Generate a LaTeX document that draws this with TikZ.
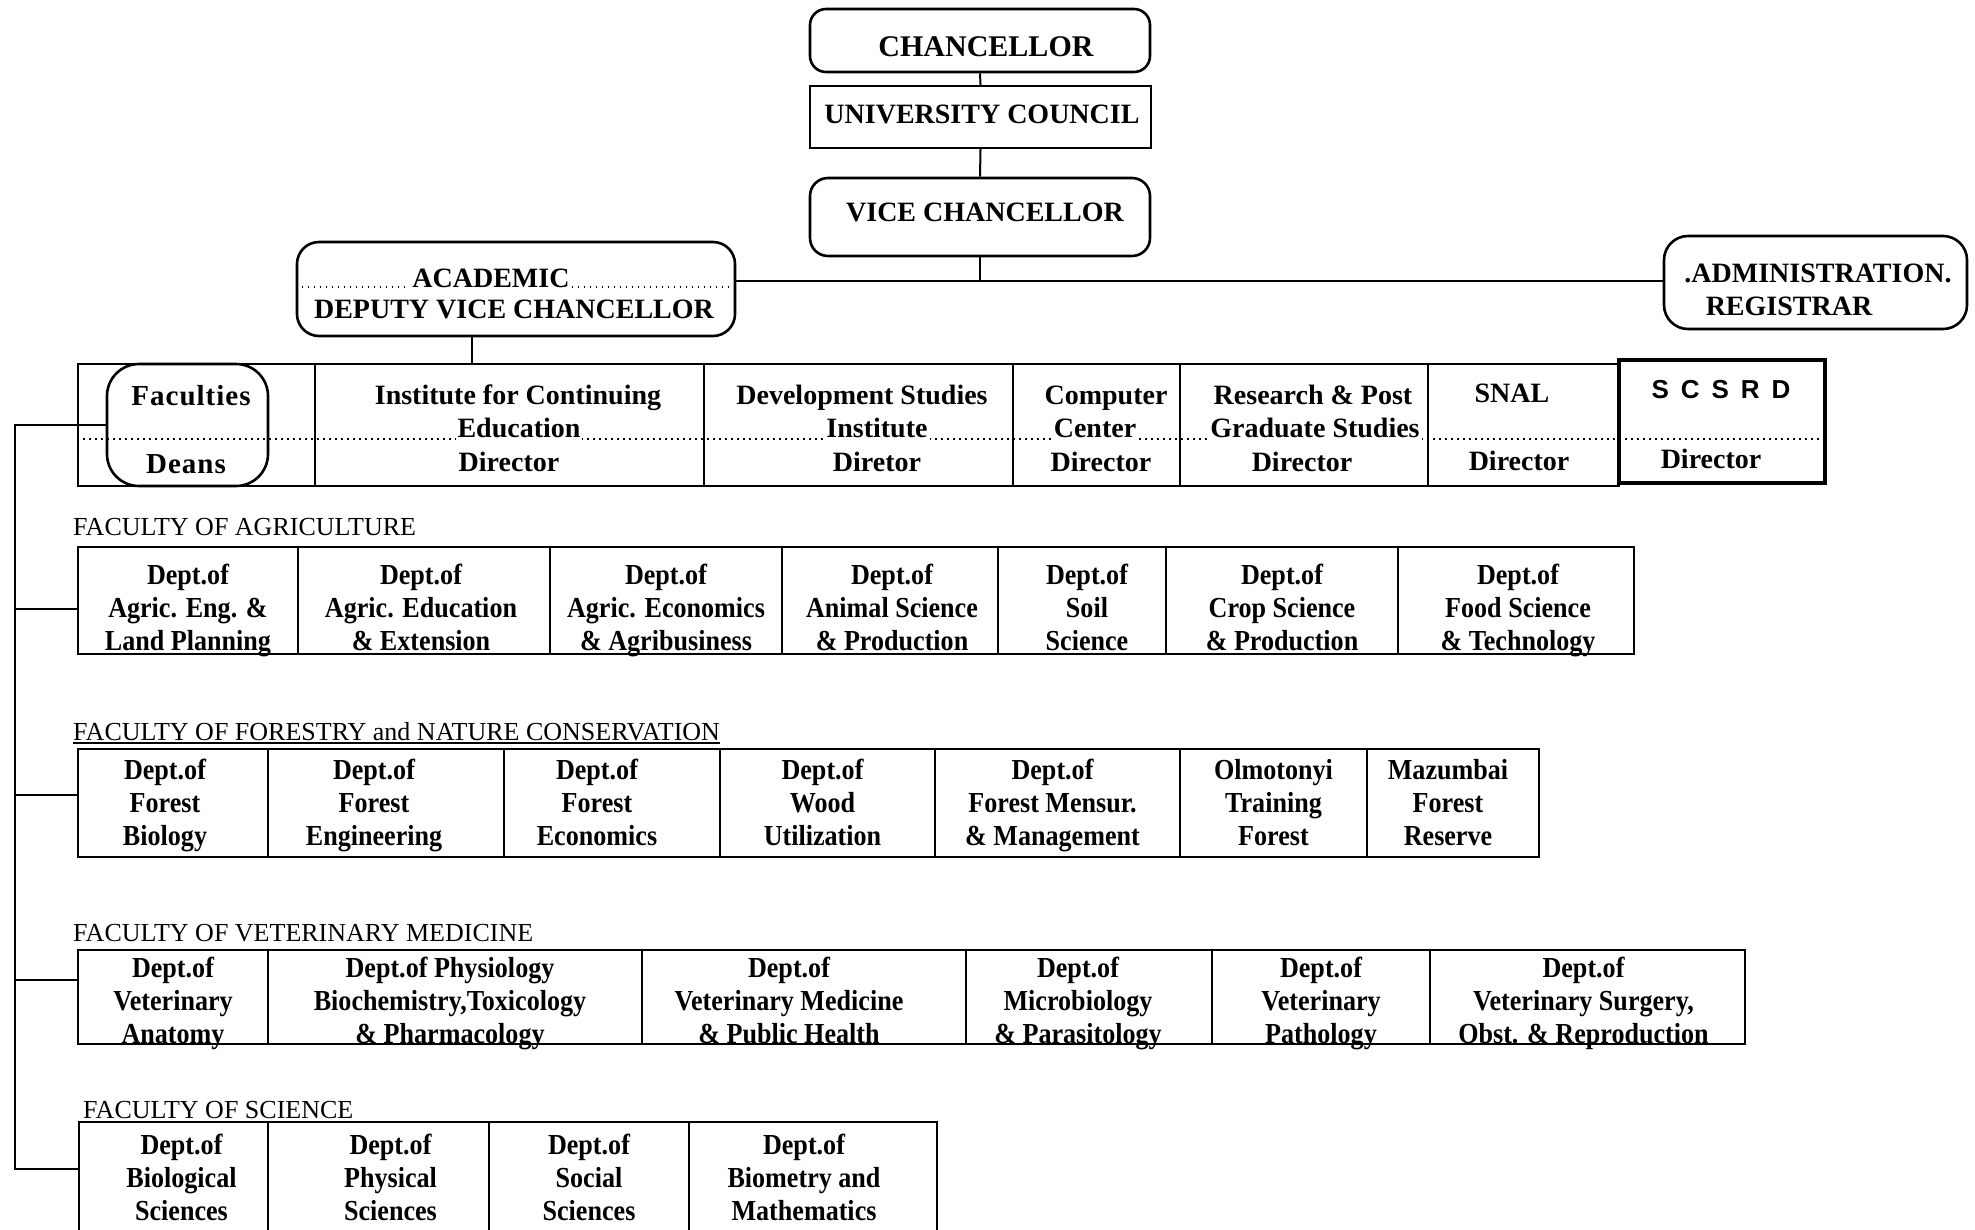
\documentclass[tikz,border=0pt]{standalone}
\usepackage{fontspec}
\setmainfont{Liberation Serif}
\newfontfamily\deptfont{Liberation Serif}[FakeStretch=0.9]
\newfontfamily\sansfont{Liberation Sans}

% a framed cell given by its left, right, top and bottom edges
\newcommand\framecell[5]{%
  \node[frame, minimum width={(#3-#2)*1pt}, minimum height={(#5-#4)*1pt}]
    (#1) at ({(#2+#3)/2},{(#4+#5)/2}) {};}
% a department cell: frame plus centred text, shifted by (dx, dy);
% struts keep every three-line block the same height
\newcommand\deptcell[8]{%
  \framecell{#1}{#2}{#3}{#4}{#5}%
  \node[celltext] (#1-t) at ([xshift={(#6)*1pt}, yshift={-(#7)*1pt}]#1.center) {\strut #8\strut};}

\begin{document}
\begin{tikzpicture}[x=1pt, y=-1pt,
  frame/.style={draw, line width=1.8pt, inner sep=0pt},
  roundbox/.style={draw, line width=2.6pt, inner sep=0pt},
  celltext/.style={align=center, inner sep=0pt, font=\deptfont\bfseries\fontsize{29}{33}\selectfont},
  toptext/.style={anchor=base, inner sep=0pt, font=\bfseries\fontsize{28}{32}\selectfont},
  unittext/.style={anchor=base, inner sep=0pt, font=\bfseries\fontsize{28}{32}\selectfont},
  ondots/.style={fill=white, inner xsep=2pt, inner ysep=3pt},
  conn/.style={line width=2pt},
  dots/.style={line width=1.5pt, dash pattern=on 1.5pt off 4.5pt},
  faclabel/.style={anchor=base west, inner sep=0pt, font=\fontsize{26}{30}\selectfont}]

\useasboundingbox (0,0) rectangle (1975,1229);
\fill[white] (0,0) rectangle (1975,1229);

% ---------------- top of the hierarchy ----------------
\node[roundbox, rounded corners=16pt, minimum width=340pt, minimum height=63pt] (chan) at (980,40.5) {};
\node[toptext, font=\bfseries\fontsize{30}{34}\selectfont] (chan-t) at (986,56) {CHANCELLOR};

\node[roundbox, line width=2.2pt, minimum width=341pt, minimum height=62pt] (uc) at (980.5,117) {};
\node[toptext] (uc-t) at (982,123) {UNIVERSITY COUNCIL};

\node[roundbox, rounded corners=18pt, minimum width=340pt, minimum height=78pt] (vc) at (980,217) {};
\node[toptext] (vc-t) at (985,221) {VICE CHANCELLOR};

\node[roundbox, rounded corners=22pt, minimum width=438pt, minimum height=94pt] (dvc) at (516,289) {};
\node[roundbox, rounded corners=24pt, minimum width=303pt, minimum height=93pt] (adm) at (1815.5,282.5) {};

\coordinate (hub) at (980,281);
\coordinate (drop) at (472,0);

\draw[conn] (chan.south) -- (uc.north);
\draw[conn] (uc.south) -- (vc.north);
\draw[conn] (vc.south) -- (hub);
\draw[conn] (dvc.east |- hub) -- (adm.west |- hub);

% dotted rule inside the deputy vice chancellor box
\draw[dots] (dvc.west |- 0,287) -- (dvc.east |- 0,287);
\node[toptext, ondots] (acad) at (491,287) {ACADEMIC};
\node[toptext] (dvc-t) at (514,318) {DEPUTY VICE CHANCELLOR};

\node[toptext] (adm-a) at (1818,282) {.ADMINISTRATION.};
\node[toptext] (adm-b) at (1789,315) {REGISTRAR};

% ---------------- units under the deputy vice chancellor ----------------
\framecell{u1}{78}{315}{364}{486}
\framecell{u2}{315}{704}{364}{486}
\framecell{u3}{704}{1013}{364}{486}
\framecell{u4}{1013}{1180}{364}{486}
\framecell{u5}{1180}{1428}{364}{486}
\framecell{u6}{1428}{1619}{364}{486}
\node[frame, line width=3.2pt, minimum width=206pt, minimum height=123pt] (u7) at (1722,421.5) {};

\draw[conn] (dvc.south -| drop) -- (u2.north -| drop);

\draw[dots] (u1.west |- 0,439) -- (u7.east |- 0,439);

\node[roundbox, rounded corners=32pt, minimum width=161pt, minimum height=122pt] (fac) at (187.5,425) {};
\node[unittext, font=\bfseries\fontsize{29}{33}\selectfont] (fac-a) at (191,405) {F\kern1pt a\kern1pt c\kern1pt u\kern1pt l\kern1pt t\kern1pt i\kern1pt e\kern1pt s};
\node[unittext, font=\bfseries\fontsize{29}{33}\selectfont] (fac-b) at (186,473) {D\kern1pt e\kern1pt a\kern1pt n\kern1pt s};

\node[unittext] (u2-a) at (518,404) {Institute for Continuing};
\node[unittext, ondots] (u2-b) at (519,437) {Education};
\node[unittext] (u2-c) at (509,471) {Director};

\node[unittext] (u3-a) at (862,404) {Development Studies};
\node[unittext, ondots] (u3-b) at (877,437) {Institute};
\node[unittext] (u3-c) at (877,471) {Diretor};

\node[unittext] (u4-a) at (1106,404) {Computer};
\node[unittext, ondots] (u4-b) at (1095,437) {Center};
\node[unittext] (u4-c) at (1101,471) {Director};

\node[unittext] (u5-a) at (1313,404) {Research \& Post};
\node[unittext, ondots] (u5-b) at (1315,437) {Graduate Studies};
\node[unittext] (u5-c) at (1302,471) {Director};

\node[unittext] (u6-a) at (1512,402) {SNAL};
\node[unittext] (u6-c) at (1519,470) {Director};

\node[unittext, font=\sansfont\bfseries\fontsize{26}{30}\selectfont] (u7-a) at (1721,398) {S\hspace{12pt}C\hspace{12pt}S\hspace{12pt}R\hspace{12pt}D};
\node[unittext] (u7-c) at (1711,468) {Director};

% ---------------- faculty of agriculture ----------------
\node[faclabel] (agr) at (73,535) {FACULTY OF AGRICULTURE};
\deptcell{a1}{78}{298}{547}{654}{0}{10}{Dept.of\\Agric. Eng. \&\\Land Planning}
\deptcell{a2}{298}{550}{547}{654}{-3}{10}{Dept.of\\Agric. Education\\\& Extension}
\deptcell{a3}{550}{782}{547}{654}{0}{10}{Dept.of\\Agric. Economics\\\& Agribusiness}
\deptcell{a4}{782}{998}{547}{654}{2}{10}{Dept.of\\Animal Science\\\& Production}
\deptcell{a5}{998}{1166}{547}{654}{5}{10}{Dept.of\\Soil\\Science}
\deptcell{a6}{1166}{1398}{547}{654}{0}{10}{Dept.of\\Crop Science\\\& Production}
\deptcell{a7}{1398}{1634}{547}{654}{2}{10}{Dept.of\\Food Science\\\& Technology}

% ---------------- faculty of forestry ----------------
\node[faclabel] (for) at (73,740) {FACULTY OF FORESTRY and NATURE CONSERVATION};
\draw[line width=1.4pt] ([yshift=-3pt]for.base west) -- ([yshift=-3pt]for.base east);
\deptcell{f1}{78}{268}{749}{857}{-8}{3}{Dept.of\\Forest\\Biology}
\deptcell{f2}{268}{504}{749}{857}{-12}{3}{Dept.of\\Forest\\Engineering}
\deptcell{f3}{504}{720}{749}{857}{-15}{3}{Dept.of\\Forest\\Economics}
\deptcell{f4}{720}{935}{749}{857}{-5}{3}{Dept.of\\Wood\\Utilization}
\deptcell{f5}{935}{1180}{749}{857}{-5}{3}{Dept.of\\Forest Mensur.\\\& Management}
\deptcell{f6}{1180}{1367}{749}{857}{0}{3}{Olmotonyi\\Training\\Forest}
\deptcell{f7}{1367}{1539}{749}{857}{-5}{3}{Mazumbai\\Forest\\Reserve}

% ---------------- faculty of veterinary medicine ----------------
\node[faclabel] (vet) at (73,941) {FACULTY OF VETERINARY MEDICINE};
\deptcell{v1}{78}{268}{950}{1044}{0}{7}{Dept.of\\Veterinary\\Anatomy}
\deptcell{v2}{268}{642}{950}{1044}{-5}{7}{Dept.of Physiology\\Biochemistry,Toxicology\\\& Pharmacology}
\deptcell{v3}{642}{966}{950}{1044}{-15}{7}{Dept.of\\Veterinary Medicine\\\& Public Health}
\deptcell{v4}{966}{1212}{950}{1044}{-11}{7}{Dept.of\\Microbiology\\\& Parasitology}
\deptcell{v5}{1212}{1430}{950}{1044}{0}{7}{Dept.of\\Veterinary\\Pathology}
\deptcell{v6}{1430}{1745}{950}{1044}{-4}{7}{Dept.of\\Veterinary Surgery,\\Obst. \& Reproduction}

% ---------------- faculty of science ----------------
\node[faclabel] (sci) at (83,1118) {FACULTY OF SCIENCE};
\deptcell{s1}{79}{268}{1122}{1231}{8}{4}{Dept.of\\Biological\\Sciences}
\deptcell{s2}{268}{489}{1122}{1231}{12}{4}{Dept.of\\Physical\\Sciences}
\deptcell{s3}{489}{689}{1122}{1231}{0}{4}{Dept.of\\Social\\Sciences}
\deptcell{s4}{689}{937}{1122}{1231}{-9}{4}{Dept.of\\Biometry and\\Mathematics}

% ---------------- trunk from the faculties to each faculty row ----------------
\coordinate (bA) at (15,609);
\coordinate (bF) at (15,795);
\coordinate (bV) at (15,980);
\coordinate (bS) at (15,1169);
\draw[conn] (fac.west) -| (bS) -- (bS -| s1.west);
\draw[conn] (bA) -- (bA -| a1.west);
\draw[conn] (bF) -- (bF -| f1.west);
\draw[conn] (bV) -- (bV -| v1.west);
\end{tikzpicture}
\end{document}
